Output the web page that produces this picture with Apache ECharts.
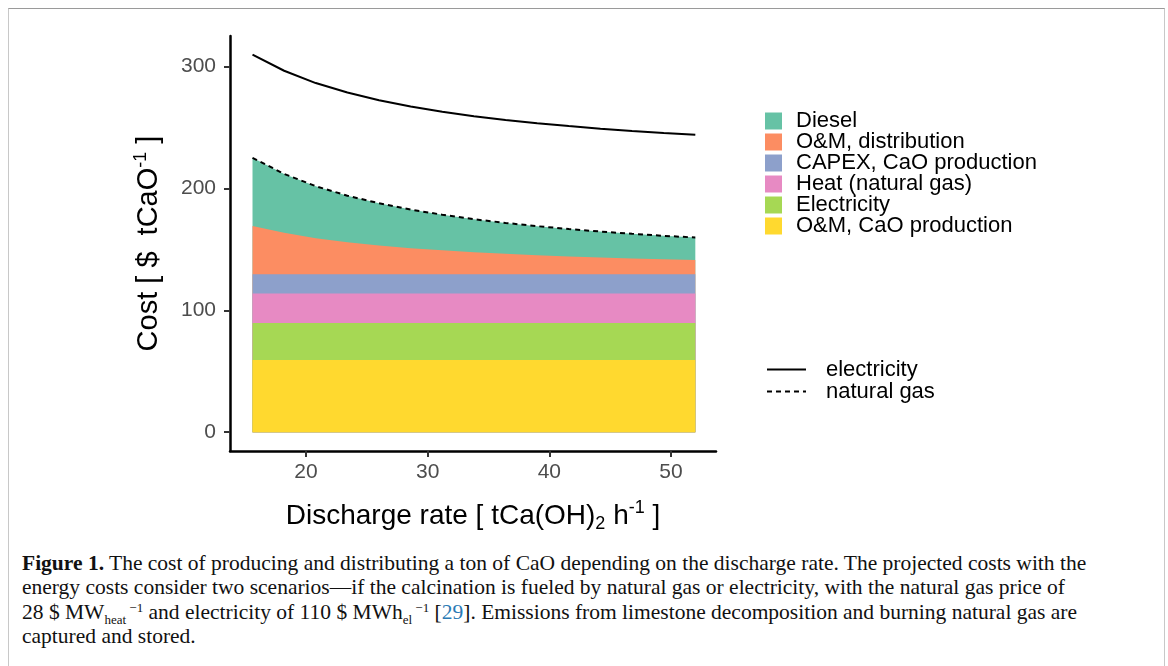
<!DOCTYPE html>
<html>
<head>
<meta charset="utf-8" />
<title>CaO cost vs discharge rate</title>
<script src="https://cdn.jsdelivr.net/npm/echarts@6/dist/echarts.min.js"></script>
<style>
  html, body { margin: 0; padding: 0; width: 1168px; height: 666px; overflow: hidden; background: #fff; }
  #frame { position: absolute; left: 8px; top: 8px; width: 1155px; height: 700px;
           border-top: 1px solid #9a9a9a; border-left: 1px solid #c8c8c8; border-right: 1px solid #c8c8c8; }
  #chart { position: absolute; left: 0; top: 0; width: 1168px; height: 540px; }
  #caption { position: absolute; left: 22px; top: 551px; width: 1130px;
             font-family: "Liberation Serif", "DejaVu Serif", serif; font-size: 21.5px; line-height: 24.3px;
             color: #111; white-space: nowrap; }
  #caption b { font-weight: bold; }
  #caption sub { font-size: 13px; line-height: 0; }
  #caption sup { font-size: 13px; line-height: 0; vertical-align: 0.55em; }
  #caption .ref { color: #2a7ab5; }
</style>
</head>
<body>
<div id="frame"></div>
<div id="chart"></div>
<div id="caption">
  <b>Figure 1.</b> The cost of producing and distributing a ton of CaO depending on the discharge rate. The projected costs with the<br>
  energy costs consider two scenarios—if the calcination is fueled by natural gas or electricity, with the natural gas price of<br>
  28 $ MW<sub>heat</sub><sup> −1</sup> and electricity of 110 $ MWh<sub>el</sub><sup> −1</sup> [<span class="ref">29</span>]. Emissions from limestone decomposition and burning natural gas are<br>
  captured and stored.
</div>
<script>
// discharge rate [tCa(OH)2 / h]
var rates = [15.6, 18.2, 20.8, 23.4, 26, 28.6, 31.2, 33.8, 36.4, 39, 41.6, 44.2, 46.8, 49.4, 52];

// stacked cost components, natural gas scenario [$ / tCaO]
var omCaO    = [59.3, 59.3, 59.3, 59.3, 59.3, 59.3, 59.3, 59.3, 59.3, 59.3, 59.3, 59.3, 59.3, 59.3, 59.3];
var elecCost = [30.2, 30.2, 30.2, 30.2, 30.2, 30.2, 30.2, 30.2, 30.2, 30.2, 30.2, 30.2, 30.2, 30.2, 30.2];
var heatGas  = [24.3, 24.3, 24.3, 24.3, 24.3, 24.3, 24.3, 24.3, 24.3, 24.3, 24.3, 24.3, 24.3, 24.3, 24.3];
var capex    = [15.8, 15.8, 15.8, 15.8, 15.8, 15.8, 15.8, 15.8, 15.8, 15.8, 15.8, 15.8, 15.8, 15.8, 15.8];
var omDist   = [39.5, 34.0, 29.6, 26.3, 23.6, 21.4, 19.6, 18.0, 16.7, 15.6, 14.6, 13.7, 12.9, 12.2, 11.6];
var diesel   = [56.0, 48.3, 42.6, 38.1, 34.6, 31.6, 29.2, 27.1, 25.4, 23.8, 22.5, 21.3, 20.3, 19.3, 18.5];

// total cost, electricity scenario
var electricityTotal = [309.8, 296.5, 286.4, 278.6, 272.3, 267.1, 262.8, 259.2, 256.1, 253.4, 251.1, 249.0, 247.1, 245.5, 244.1];

var xTicks = [20, 30, 40, 50];
var yTicks = [0, 100, 200, 300];

var FONT = '"Liberation Sans", Arial, sans-serif';

var bands = [
  { name: 'O&M, CaO production', data: omCaO, color: '#FFD92F' },
  { name: 'Electricity', data: elecCost, color: '#A6D854' },
  { name: 'Heat (natural gas)', data: heatGas, color: '#E78AC3' },
  { name: 'CAPEX, CaO production', data: capex, color: '#8DA0CB' },
  { name: 'O&M, distribution', data: omDist, color: '#FC8D62' },
  { name: 'Diesel', data: diesel, color: '#66C2A5' }
];

// running totals, bottom band first; the last one is the natural gas total
var running = rates.map(function () { return 0; });
var tops = bands.map(function (b) {
  running = running.map(function (v, i) { return v + b.data[i]; });
  return running.slice();
});
var gasTotal = tops[tops.length - 1];

function pairs(vals) {
  return rates.map(function (r, i) { return [r, vals[i]]; });
}

// each band is filled down to 0; the upper ones are drawn first so lower ones cover them
var series = [];
for (var k = bands.length - 1; k >= 0; k--) {
  series.push({
    name: bands[k].name,
    type: 'line',
    data: pairs(tops[k]),
    symbol: 'none',
    silent: true,
    color: bands[k].color,
    lineStyle: { width: 0 },
    areaStyle: { color: bands[k].color, opacity: 1, origin: 0 },
    z: 2
  });
}

series.push({
  name: 'electricity', type: 'line', data: pairs(electricityTotal), symbol: 'none',
  color: '#000', lineStyle: { color: '#000', width: 2 }, z: 5
});
series.push({
  name: 'natural gas', type: 'line', data: pairs(gasTotal), symbol: 'none',
  color: '#000', lineStyle: { color: '#000', width: 2, type: [5, 4] }, z: 5
});

var chart = echarts.init(document.getElementById('chart'));
chart.setOption({
  animation: false,
  textStyle: { fontFamily: FONT },
  grid: { left: 230, right: 452, top: 36, bottom: 86 },
  legend: [{
    orient: 'vertical', left: 765, top: 110, padding: 0,
    data: ['Diesel', 'O&M, distribution', 'CAPEX, CaO production', 'Heat (natural gas)', 'Electricity', 'O&M, CaO production'],
    icon: 'rect', itemWidth: 17, itemHeight: 17, itemGap: -1, selectedMode: false,
    textStyle: { fontFamily: FONT, fontSize: 22, color: '#000', lineHeight: 19, padding: [0, 0, 0, 9] }
  }, {
    orient: 'vertical', left: 766, top: 358.5, padding: 0,
    data: ['electricity', 'natural gas'],
    itemWidth: 39, itemHeight: 14, itemGap: 0, selectedMode: false,
    itemStyle: { opacity: 0 },
    textStyle: { fontFamily: FONT, fontSize: 22, color: '#000', lineHeight: 21, padding: [0, 0, 0, 15] }
  }],
  xAxis: {
    type: 'value', min: 13.75, max: 53.7,
    name: '{a|Discharge rate [ tCa(OH)}{b|2}{a| h}{s|-1}{a| ]}',
    nameLocation: 'middle', nameGap: 46,
    nameTextStyle: {
      rich: {
        a: { fontFamily: FONT, fontSize: 28, color: '#000', lineHeight: 38, verticalAlign: 'middle' },
        b: { fontFamily: FONT, fontSize: 18, color: '#000', lineHeight: 38, verticalAlign: 'bottom', padding: [0, 0, 2, 0] },
        s: { fontFamily: FONT, fontSize: 18, color: '#000', lineHeight: 38, verticalAlign: 'top', padding: [2, 0, 0, 0] }
      }
    },
    axisLine: { show: true, onZero: false, lineStyle: { color: '#000', width: 2.5 } },
    axisTick: { show: true, length: 6, customValues: xTicks, lineStyle: { color: '#333', width: 2 } },
    axisLabel: { customValues: xTicks, margin: 11, fontSize: 21, color: '#4d4d4d', fontFamily: FONT },
    splitLine: { show: false }
  },
  yAxis: {
    type: 'value', min: -15.4, max: 325,
    name: '{a|Cost [ $  tCaO}{s|-1}{a| ]}',
    nameLocation: 'middle', nameGap: 62, nameRotate: 90,
    nameTextStyle: {
      rich: {
        a: { fontFamily: FONT, fontSize: 29, color: '#000', lineHeight: 38, verticalAlign: 'middle' },
        s: { fontFamily: FONT, fontSize: 18, color: '#000', lineHeight: 38, verticalAlign: 'top', padding: [2, 0, 0, 0] }
      }
    },
    axisLine: { show: true, onZero: false, lineStyle: { color: '#000', width: 2.5 } },
    axisTick: { show: true, length: 6, customValues: yTicks, lineStyle: { color: '#333', width: 2 } },
    axisLabel: { customValues: yTicks, margin: 14, fontSize: 21, color: '#4d4d4d', fontFamily: FONT },
    splitLine: { show: false }
  },
  series: series
});
</script>
</body>
</html>
